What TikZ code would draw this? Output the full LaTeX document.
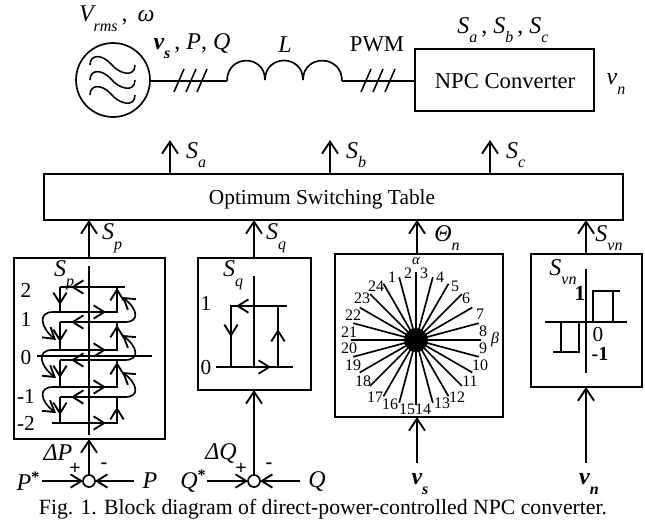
\documentclass[tikz,border=0pt]{standalone}
\usepackage{fontspec}
\setmainfont{Liberation Serif}
\usetikzlibrary{arrows.meta}
\newcommand\fs[1]{\fontsize{#1}{#1}\selectfont}
\newcommand\ssub[2]{{\itshape #1}\raisebox{-.4em}{\fs{12}\itshape #2}}
\newcommand\bsub[2]{{\bfseries\itshape #1}\raisebox{-.4em}{\fs{12}\bfseries\itshape #2}}
\newcommand\starred[1]{{\itshape #1}\raisebox{.35em}{\fs{12}\bfseries *}}
\tikzset{
  x=0.75pt,y=-0.75pt,
  every node/.style={inner sep=0pt,outer sep=0pt,font=\fs{16}},
  ln/.style={line width=1.25pt},
  tip/.style={ln,-{Straight Barb[length=9pt,width=12pt,line width=1.4pt]}},
  smalltip/.style={ln,-{Straight Barb[length=8pt,width=10pt,line width=1.4pt]}},
  blockbox/.style={draw,line width=1.5pt},
  num/.style={font=\fs{12}},
  lab/.style={font=\fs{18}},
  junction/.style={draw,circle,fill=white,line width=1.25pt,minimum size=9pt},
}
\newcommand\pxbox[5]{\node[blockbox,minimum width={(#4-#2)*0.75pt},minimum height={(#5-#3)*0.75pt}] (#1) at ({(#2+#4)/2},{(#3+#5)/2}) {};}
\begin{document}
\begin{tikzpicture}
\useasboundingbox (0,0) rectangle (645,522);
% top row
\node[draw,circle,line width=1.25pt,minimum size=55.5pt] (src) at (113,80) {};
\foreach \d in {0,15,30}{
  \draw[line width=1.15pt] (90,{65+\d}) .. controls (90,{54+\d}) and (102,{54+\d}) .. (111,{64+\d})
     .. controls (119,{74+\d}) and (135,{78+\d}) .. (135,{65+\d});
}
\coordinate (indA) at (227,81);
\coordinate (indB) at (342,81);
\draw[ln] (src.east |- indA) -- (indA);
\draw[ln] (indA) .. controls (227,54) and (265,54) .. (265,80)
  .. controls (265,54) and (303,54) .. (303,80)
  .. controls (303,54) and (342,54) .. (342,81);
\pxbox{npc}{415}{49}{594}{111}
\node[font=\fs{17}] at (505,81) {NPC Converter};
\draw[ln] (indB) -- (indB -| npc.west);
\foreach \a in {174,186,197,361,373,385}
  \draw[line width=1.15pt] (\a,92) -- ({\a+10},69);
\node[lab,anchor=west] at (79,19) {\ssub{V}{rms}\,, \,{\itshape ω}};
\node[lab] at (192,46) {\bsub{v}{s}\,, {\itshape P}, {\itshape Q}};
\node[lab] at (285,45) {\itshape L};
\node[font=\fs{17}] at (377,44) {PWM};
\node[lab] at (503,30) {\ssub{S}{a}\,, \ssub{S}{b}\,, \ssub{S}{c}};
\node[lab] at (616,84) {\ssub{v}{n}};
% table
\pxbox{table}{44}{174}{623}{220}
\node at (322,199) {Optimum Switching Table};
\foreach \x/\n in {170/a,330/b,490/c}{
  \draw[tip] (\x,0 |- table.north) -- (\x,140);
  \node[lab,anchor=west] at ({\x+16},155) {\ssub{S}{\n}};
}
% blocks
\pxbox{pblock}{14}{258}{165}{439}
\pxbox{qblock}{198}{258}{311}{390}
\pxbox{sector}{335}{254}{503}{417}
\pxbox{vnblock}{531}{254}{642}{387}
\coordinate (xp) at (89,0);
\coordinate (xq) at (254,0);
\coordinate (xs) at (417,0);
\coordinate (xv) at (586,0);
\draw[tip] (xp |- pblock.north) -- (xp |- table.south);
\draw[tip] (xq |- qblock.north) -- (xq |- table.south);
\draw[tip] (xs |- sector.north) -- (xs |- table.south);
\draw[tip] (xv |- vnblock.north) -- (xv |- table.south);
\node[lab] at (112,238) {\ssub{S}{p}};
\node[lab] at (276,238) {\ssub{S}{q}};
\node[lab] at (447,238) {\ssub{Θ}{n}};
\node[lab] at (609,238) {\ssub{S}{vn}};
% P hysteresis
\draw[ln] (89,266) -- (89,435);
\draw[line width=1.6pt] (37,356) -- (152,356);
\draw[ln] (60,287) -- (125,287);
\draw[ln] (117,287) -- (117,312) -- (60,312) -- (60,287);
\draw[ln] (60,322) -- (125,322);
\draw[ln] (60,322) -- (60,350);
\draw[ln] (50,350) -- (117,350) -- (117,322);
\draw[ln] (60,360) -- (125,360);
\draw[ln] (60,360) -- (60,387) -- (117,387) -- (117,360);
\draw[ln] (60,397) -- (125,397);
\draw[ln] (60,397) -- (60,423);
\draw[ln] (52,423) -- (117,423) -- (117,397);
\foreach \y in {287,322,360,397} \draw[smalltip] (82,\y) -- (71,\y);
\foreach \y in {312,350,387,423} \draw[smalltip] (94,\y) -- (106,\y);
\foreach \a/\b in {294/305,331/342,367/378,404/415} \draw[smalltip] (60,\a) -- (60,\b);
\foreach \a/\b in {418/407,373/362,336/325,299/288} \draw[smalltip] (117,\a) -- (117,\b);
\draw[smalltip] (60,312) -- (53,312) .. controls (38,312) and (40,327) .. (56,340);
\draw[smalltip] (55,350) -- (52,350) .. controls (37,350) and (39,365) .. (56,378);
\draw[smalltip] (60,387) -- (53,387) .. controls (38,387) and (40,401) .. (56,413);
\draw[smalltip] (117,322) -- (125,322) .. controls (140,322) and (138,309) .. (122,297);
\draw[smalltip] (117,360) -- (125,360) .. controls (140,360) and (138,347) .. (122,335);
\draw[smalltip] (117,397) -- (125,397) .. controls (140,397) and (138,384) .. (122,372);
\node[lab] at (64,275) {\ssub{S}{p}};
\foreach \t/\y in {2/290,1/319,0/357,-1/396,-2/423}
  \node[font=\fs{16}] at (26,\y) {\t};
% Q hysteresis
\draw[ln] (254,276) -- (254,366);
\draw[ln] (287,306) -- (231,306) -- (231,367);
\draw[ln] (278,306) -- (278,367);
\draw[line width=1.5pt] (216,367) -- (293,367);
\draw[smalltip] (250,306) -- (236,306);
\draw[smalltip] (231,325) -- (231,337);
\draw[smalltip] (256,367) -- (271,367);
\draw[smalltip] (278,342) -- (278,329);
\node[lab] at (233,275) {\ssub{S}{q}};
\node[font=\fs{16}] at (206,303) {1};
\node[font=\fs{16}] at (206,367) {0};
% sector
\node[circle,fill=black,minimum size=18pt] (hub) at (416,340) {};
\foreach \ang in {0,15,...,345}
  \draw[line width=1.25pt] (hub.center) -- +(\ang:65);
\draw[line width=1.25pt] (hub.center) -- (416,272);
\foreach \t/\a/\b in {1/392/277,2/408/273,3/424/273,4/440/277,5/455/286,6/466/298,7/480/314,8/483/331,9/483/348,10/480/365,11/470/381,12/457/397,13/442/403,14/423/409,15/407/409,16/390/404,17/375/397,18/363/381,19/353/365,20/349/348,21/349/332,22/353/315,23/362/298,24/376/286}
  \node[num] at (\a,\b) {\t};
\node[font=\fs{11}\itshape] at (416,261) {α};
\node[font=\fs{12}\itshape] at (495,340) {β};
% vn block
\draw[ln] (586,269) -- (586,373);
\draw[line width=1.6pt] (545,322) -- (627,322);
\draw[ln] (593,322) -- (593,291) -- (620,291) (613,291) -- (613,322);
\draw[ln] (579,322) -- (579,352) -- (553,352) (561,352) -- (561,322);
\node[lab] at (563,272) {\ssub{S}{vn}};
\node[font=\fs{16}\bfseries] at (580,293) {1};
\node[font=\fs{16}] at (598,335) {0};
\node[font=\fs{15}\bfseries] at (600,354) {-1};
% inputs
\coordinate (vsin) at (417,463);
\coordinate (vnin) at (586,463);
\draw[tip] (vsin) -- (vsin |- sector.south);
\draw[tip] (vnin) -- (vnin |- vnblock.south);
\node[lab] at (420,484) {\bsub{v}{s}};
\node[lab] at (589,484) {\bsub{v}{n}};
% comparators
\node[junction] (sp) at (89,481) {};
\node[junction] (sq) at (254,481) {};
\draw[tip] (sp) -- (xp |- pblock.south);
\draw[tip] (sq) -- (xq |- qblock.south);
\coordinate (pl) at (42,481); \coordinate (pr) at (134,481);
\coordinate (ql) at (207,481); \coordinate (qr) at (300,481);
\draw[smalltip] (pl) -- (sp);
\draw[smalltip] (pr) -- (sp);
\draw[smalltip] (ql) -- (sq);
\draw[smalltip] (qr) -- (sq);
\node[lab] at (28,481) {\starred{P}};
\node[lab] at (150,481) {\itshape P};
\node[lab] at (193,481) {\starred{Q}};
\node[lab] at (317,481) {\itshape Q};
\node[lab] at (58,453) {\itshape ΔP};
\node[lab] at (221,453) {\itshape ΔQ};
\node[font=\fs{15}\bfseries] at (75,469) {+};
\node[font=\fs{15}\bfseries] at (104,466) {-};
\node[font=\fs{15}\bfseries] at (241,469) {+};
\node[font=\fs{15}\bfseries] at (269,466) {-};
% caption
\node[font=\fs{16.3}] at (323,509) {Fig. 1. Block diagram of direct-power-controlled NPC converter.};
\end{tikzpicture}
\end{document}
